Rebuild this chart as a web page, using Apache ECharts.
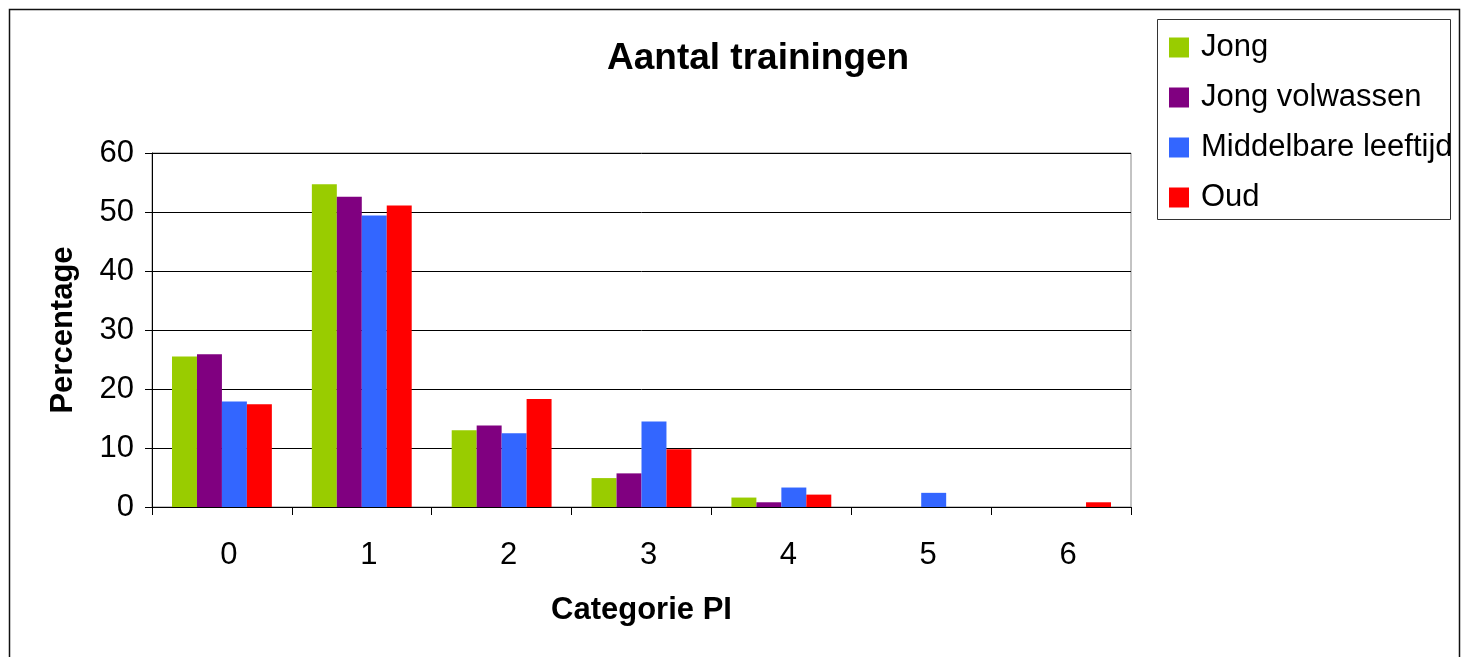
<!DOCTYPE html>
<html>
<head>
<meta charset="utf-8">
<script src="https://cdn.jsdelivr.net/npm/echarts@6/dist/echarts.min.js"></script>
<style>
html,body{margin:0;padding:0;background:#fff;}
#chart{width:1466px;height:657px;}
</style>
</head>
<body>
<div id="chart"></div>
<script>
const categories = ['0', '1', '2', '3', '4', '5', '6'];
const seriesNames = ['Jong', 'Jong volwassen', 'Middelbare leeftijd', 'Oud'];
const jong = [25.5, 54.7, 13.0, 4.9, 1.6, 0, 0];
const jongVolwassen = [25.9, 52.6, 13.8, 5.7, 0.8, 0, 0];
const middelbareLeeftijd = [17.9, 49.4, 12.5, 14.5, 3.3, 2.4, 0];
const oud = [17.4, 51.1, 18.3, 9.8, 2.1, 0, 0.8];
const colors = ['#99CC00', '#800080', '#3366FF', '#FF0000'];
const titleText = 'Aantal trainingen';
const xAxisName = 'Categorie PI';
const yAxisName = 'Percentage';

const FONT = '"Liberation Sans", Arial, sans-serif';
const seriesData = [jong, jongVolwassen, middelbareLeeftijd, oud];

const chart = echarts.init(document.getElementById('chart'), null, {renderer: 'canvas'});
chart.setOption({
  animation: false,
  backgroundColor: '#fff',
  color: colors,
  title: {
    text: titleText,
    left: 607, top: 40, padding: 0,
    textStyle: {fontFamily: FONT, fontSize: 37, fontWeight: 'bold', color: '#000'}
  },
  legend: {
    orient: 'vertical',
    left: 1169, top: 32, padding: 0,
    itemWidth: 20, itemHeight: 20, itemGap: 19,
    icon: 'rect',
    data: seriesNames,
    textStyle: {fontFamily: FONT, fontSize: 31, color: '#000', padding: [0, 0, 0, 7]}
  },
  grid: {
    left: 152, top: 153, right: 335, bottom: 150,
    show: true, borderColor: '#888', borderWidth: 1, backgroundColor: 'transparent'
  },
  xAxis: {
    type: 'category',
    data: categories,
    name: xAxisName,
    nameLocation: 'middle',
    nameGap: 88,
    nameTextStyle: {fontFamily: FONT, fontSize: 31, fontWeight: 'bold', color: '#000'},
    axisLine: {lineStyle: {color: '#000', width: 1}},
    axisTick: {show: true, length: 8, lineStyle: {color: '#000'}},
    axisLabel: {fontFamily: FONT, fontSize: 31, color: '#000', margin: 33, padding: [0, 0, 0, 14]},
    splitLine: {show: false}
  },
  yAxis: {
    type: 'value',
    min: 0, max: 60, interval: 10,
    name: yAxisName,
    nameLocation: 'middle',
    nameGap: 73,
    nameTextStyle: {fontFamily: FONT, fontSize: 31, fontWeight: 'bold', color: '#000'},
    axisLine: {show: true, lineStyle: {color: '#000', width: 1}},
    axisTick: {show: true, length: 7, lineStyle: {color: '#000'}},
    axisLabel: {fontFamily: FONT, fontSize: 31, color: '#000', margin: 18},
    splitLine: {show: true, lineStyle: {color: '#000', width: 1}}
  },
  series: seriesNames.map((n, i) => ({
    name: n,
    type: 'bar',
    data: seriesData[i],
    barGap: '0%',
    barCategoryGap: '28.6%',
    itemStyle: {color: colors[i]}
  })),
  graphic: [
    {type: 'rect', shape: {x: 9.5, y: 9.5, width: 1450, height: 700},
     style: {fill: null, stroke: '#111', lineWidth: 1.5}, silent: true, z: 100},
    {type: 'rect', shape: {x: 1157.5, y: 19.5, width: 293, height: 200},
     style: {fill: null, stroke: '#333', lineWidth: 1}, silent: true, z: 100}
  ]
});
</script>
</body>
</html>
